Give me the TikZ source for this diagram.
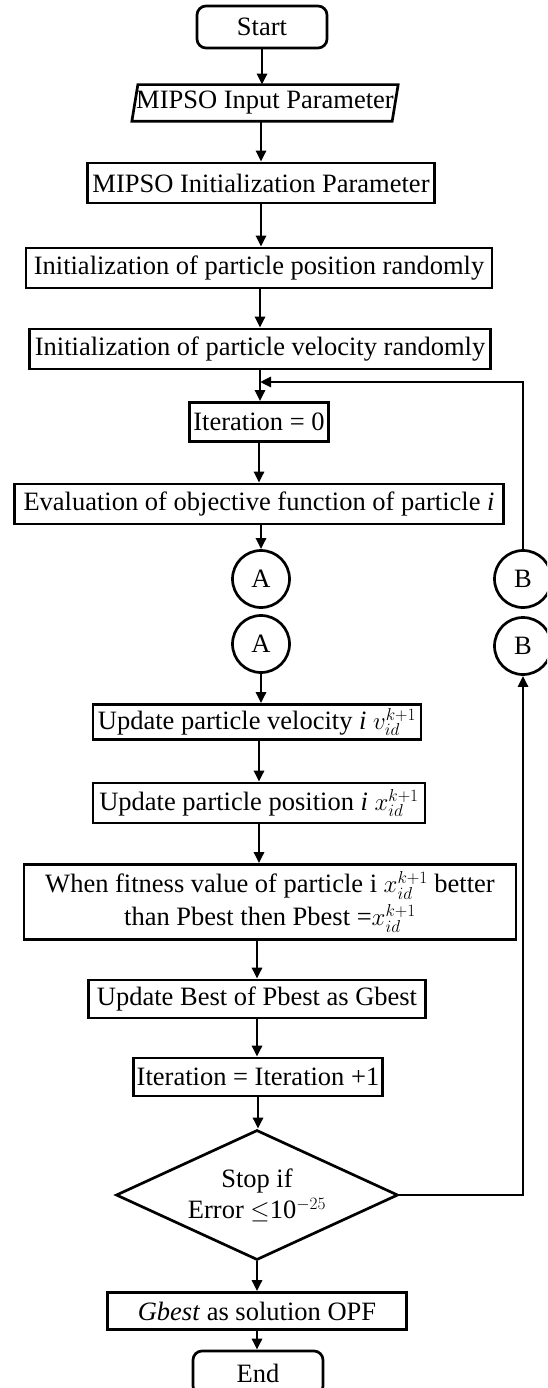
\documentclass[tikz,border=0pt]{standalone}
\usepackage{fontspec}
\setmainfont{Liberation Serif}
\usetikzlibrary{arrows.meta,shapes.geometric}
\begin{document}
\begin{tikzpicture}[x=1pt,y=-1pt,
  every node/.style={font=\fontsize{26.5}{33}\selectfont, inner sep=0pt, line width=2.7pt},
  box/.style={draw, rectangle, align=center},
  term/.style={draw, rectangle, rounded corners=9pt},
  conn/.style={draw, circle, minimum size=57pt},
  arr/.style={line width=2.7pt, -{Triangle[width=10pt,length=11pt]}},
  ln/.style={line width=2.7pt}]
\path[use as bounding box, clip] (0,0) rectangle (547,1388);
\node[term, minimum width=130pt, minimum height=42pt] (start) at (262,27) {Start};
\node[minimum width=256pt, minimum height=34pt] (inp) at (265,103) {MIPSO Input Parameter};
\draw[ln] ([xshift=-3pt]inp.south west) -- ([xshift=3pt]inp.north west) -- ([xshift=3pt]inp.north east) -- ([xshift=-3pt]inp.south east) -- cycle;
\node[box, minimum width=347pt, minimum height=40pt] (ipar) at (261,183) {MIPSO Initialization Parameter};
\node[box, minimum width=466pt, minimum height=40pt] (ipos) at (259,268) {Initialization of particle position randomly};
\node[box, minimum width=461pt, minimum height=40pt] (ivel) at (260,349) {Initialization of particle velocity randomly};
\node[box, minimum width=139pt, minimum height=39pt] (it0) at (259,422) {Iteration = 0};
\node[box, minimum width=489pt, minimum height=40pt] (eval) at (259,504) {Evaluation of objective function of particle \textit{i}};
\node[conn] (a1) at (261,579) {A};
\node[conn] (b1) at (523,579) {B};
\node[conn] (a2) at (261,644) {A};
\node[conn] (b2) at (523,646) {B};
\node[box, minimum width=328pt, minimum height=35pt] (uvel) at (257,722) {Update particle velocity \textit{i} $v_{id}^{k+1}$};
\node[box, minimum width=332pt, minimum height=40pt] (upos) at (259,803) {Update particle position \textit{i} $x_{id}^{k+1}$};
\node[box, minimum width=492pt, minimum height=75pt] (fit) at (270,902) {When fitness value of particle i $x_{id}^{k+1}$ better\\than Pbest then Pbest =$x_{id}^{k+1}$};
\node[box, minimum width=337pt, minimum height=38pt] (best) at (257,999) {Update Best of Pbest as Gbest};
\node[box, minimum width=249pt, minimum height=38pt] (it1) at (258,1077) {Iteration = Iteration +1};
\node[draw, diamond, aspect=2.17, minimum width=282pt, minimum height=130pt, align=center, font=\fontsize{26.5}{31}\selectfont] (dia) at (257,1195) {Stop if\\Error $\leq$10$^{-25}$};
\node[box, minimum width=299pt, minimum height=37pt] (gb) at (257,1311) {\textit{Gbest} as solution OPF};
\node[term, minimum width=130pt, minimum height=44pt] (end) at (258,1373) {End};
\coordinate (jn) at (260,382);
\draw[arr] (start.south) -- (start.south |- inp.north);
\draw[arr] (inp.south -| ipar.north) -- (ipar.north);
\draw[arr] (ipar.south) -- (ipar.south |- ipos.north);
\draw[arr] (ivel.north |- ipos.south) -- (ivel.north);
\draw[arr] (ivel.south) -- (ivel.south |- it0.north);
\draw[arr] (b1.north) |- (jn);
\draw[arr] (it0.south) -- (it0.south |- eval.north);
\draw[arr] (eval.south -| a1.north) -- (a1.north);
\draw[arr] (a2.south) -- (uvel.north -| a2.south);
\draw[arr] (uvel.south -| upos.north) -- (upos.north);
\draw[arr] (upos.south) -- (fit.north -| upos.south);
\draw[arr] (fit.south -| best.north) -- (best.north);
\draw[arr] (best.south) -- (best.south |- it1.north);
\draw[arr] (it1.south) -- (dia.north -| it1.south);
\draw[arr] (dia.south) -- (gb.north -| dia.south);
\draw[arr] (gb.south) -- (gb.south |- end.north);
\draw[arr] (dia.east) -| (b2.south);
\end{tikzpicture}
\end{document}
